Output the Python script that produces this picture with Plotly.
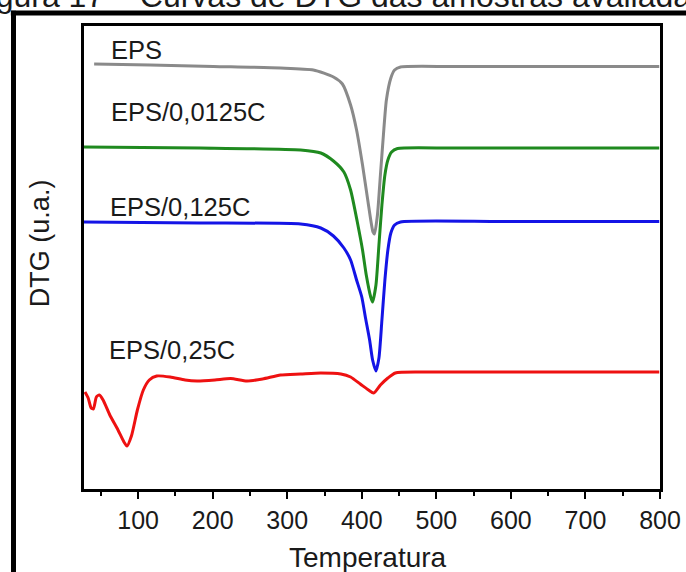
import plotly.graph_objects as go

# Temperature (x) and DTG (u.a.) values
eps_T = [41, 116, 201, 291, 335, 362, 374, 385, 393, 401, 408, 415, 417, 421, 425, 429, 433, 439, 444, 452, 519, 654, 799]
eps_v = [42.5, 42.4, 42.25, 42.1, 41.9, 41.2, 40.5, 38.4, 35.9, 32.4, 28.9, 25.7, 25.5, 27.4, 31.4, 35.4, 38.9, 41.1, 41.9, 42.2, 42.25, 42.25, 42.25]

c0125_T = [27, 183, 318, 345, 362, 376, 385, 394, 401, 406, 412, 414.5, 419, 423, 427, 431, 435, 440, 448, 519, 654, 799]
c0125_v = [34.2, 34.1, 33.9, 33.6, 32.8, 31.7, 29.9, 26.7, 23.9, 21.4, 19.2, 18.7, 20.4, 24.4, 28.4, 31.4, 32.9, 33.7, 34.05, 34.1, 34.1, 34.1]

c125_T = [27, 183, 318, 345, 362, 376, 385, 393, 400, 405, 410.5, 414.5, 419, 423, 427, 431, 435, 439, 444, 452, 587, 799]
c125_v = [26.7, 26.6, 26.5, 26.1, 25.3, 24.1, 22.9, 20.9, 19.2, 17.1, 14.9, 12.9, 11.8, 13.1, 16.9, 20.9, 23.9, 25.6, 26.4, 26.7, 26.75, 26.75]

c25_T = [28.7, 33, 37, 40, 44, 48, 53, 62, 73, 81, 85, 91, 99, 107, 115, 125, 143, 163, 179, 203, 224, 246, 267, 291, 318, 345, 372, 385, 398, 409, 416, 425, 435, 445, 479, 587, 799]
c25_v = [9.7, 9.1, 8.1, 8.0, 9.2, 9.4, 8.9, 7.4, 5.9, 4.7, 4.3, 5.3, 7.9, 9.9, 10.9, 11.3, 11.2, 10.9, 10.8, 10.9, 11.05, 10.8, 11.0, 11.4, 11.5, 11.6, 11.5, 11.2, 10.5, 9.9, 9.6, 10.4, 11.1, 11.6, 11.7, 11.7, 11.7]

series_names = ["EPS", "EPS/0,0125C", "EPS/0,125C", "EPS/0,25C"]
series_T = [eps_T, c0125_T, c125_T, c25_T]
series_v = [eps_v, c0125_v, c125_v, c25_v]
colors = ["#8a8a8a", "#1f8a1f", "#1414e6", "#ee1111"]

# label anchor positions (data coords)
label_T = [61, 61, 60, 58.5]
label_v = [43.9, 37.7, 28.2, 13.9]

x_ticks = [100, 200, 300, 400, 500, 600, 700, 800]

FONT = "Liberation Sans, Arial, sans-serif"
fig = go.Figure()
for name, T, v, c in zip(series_names, series_T, series_v, colors):
    fig.add_trace(go.Scatter(x=T, y=v, mode="lines", name=name,
                             line=dict(color=c, width=3, shape="spline", smoothing=0.6)))

for name, T, v in zip(series_names, label_T, label_v):
    fig.add_annotation(x=T, y=v, xref="x", yref="y", text=name, showarrow=False,
                       xanchor="left", yanchor="middle",
                       font=dict(family=FONT, size=25.5, color="#1a1a1a"))

fig.add_annotation(x=0.493, y=-0.149, xref="paper", yref="paper", text="Temperatura",
                   showarrow=False, xanchor="center", yanchor="middle",
                   font=dict(family=FONT, size=28, color="#1a1a1a"))
fig.add_annotation(x=-0.0764, y=0.531, xref="paper", yref="paper", text="DTG (u.a.)",
                   showarrow=False, xanchor="center", yanchor="middle", textangle=-90,
                   font=dict(family=FONT, size=27, color="#1a1a1a"))
fig.add_annotation(x=0.441, y=1.021, xref="paper", yref="paper",
                   text="Figura 17 – Curvas de DTG das amostras avaliadas",
                   showarrow=False, xanchor="center", yanchor="bottom",
                   font=dict(family=FONT, size=32, color="#1a1a1a"))

# outer frame of the figure
fig.add_shape(type="line", xref="paper", yref="paper", x0=-0.1224, x1=-0.1224, y0=1.033, y1=-0.3,
              line=dict(color="black", width=5))
fig.add_shape(type="line", xref="paper", yref="paper", x0=-0.127, x1=1.1, y0=1.028, y1=1.028,
              line=dict(color="black", width=5))

fig.update_xaxes(range=[27.4, 800], tickvals=x_ticks, ticks="outside", ticklen=7, tickwidth=2,
                 tickcolor="black", showline=True, mirror=True, linecolor="black", linewidth=2.5,
                 showgrid=False, zeroline=False, automargin=False,
                 tickfont=dict(family=FONT, size=25, color="#1a1a1a"),
                 minor=dict(dtick=50, tick0=0, ticks="outside", ticklen=4, tickwidth=2, tickcolor="black"))
fig.update_yaxes(range=[0, 46.3], showticklabels=False, ticks="", showline=True, mirror=True,
                 linecolor="black", linewidth=2.5, showgrid=False, zeroline=False, automargin=False)

fig.update_layout(width=686, height=572, margin=dict(l=84, r=26, t=26, b=83, autoexpand=False),
                  autosize=False, plot_bgcolor="white", paper_bgcolor="white", showlegend=False)

fig.write_html("out.html", config={"displayModeBar": False, "responsive": False},
               post_script="document.body.style.margin='0';document.body.style.overflow='hidden';")
